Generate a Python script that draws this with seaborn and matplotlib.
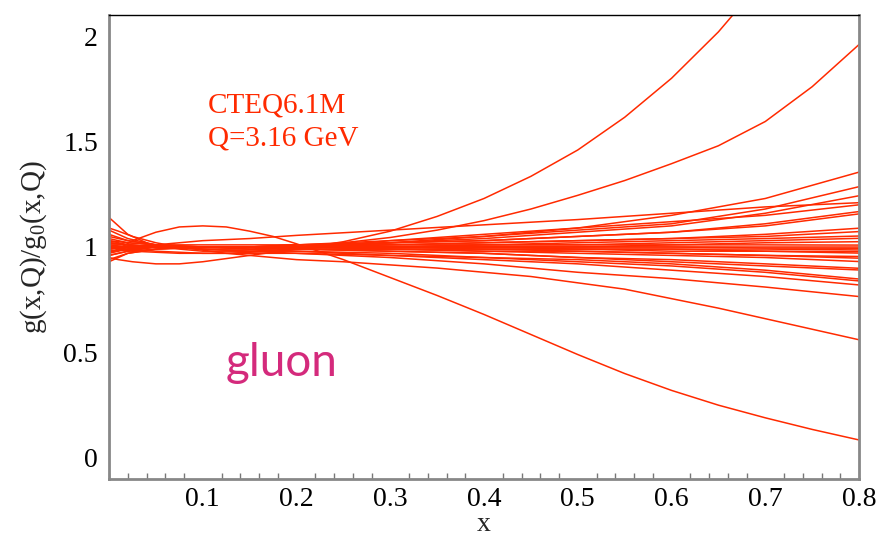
import pandas as pd
import matplotlib
matplotlib.use("Agg")
import matplotlib.pyplot as plt
from matplotlib.ticker import MultipleLocator
import seaborn as sns

# fine x grid for the curves that bend a lot
x_fine = [0.0, 0.01, 0.025, 0.05, 0.075, 0.1, 0.125, 0.15, 0.175, 0.2, 0.25,
          0.3, 0.35, 0.4, 0.45, 0.5, 0.55, 0.6, 0.65, 0.7, 0.75, 0.8]
# coarse x grid for the nearly straight ones
x_coarse = [0.0, 0.02, 0.05, 0.1, 0.15, 0.2, 0.3, 0.4, 0.5, 0.6, 0.7, 0.8]

top_1 = [1.00, 0.99, 0.98, 0.975, 0.97, 0.97, 0.97, 0.975, 0.98, 0.99, 1.025,
         1.075, 1.145, 1.23, 1.335, 1.46, 1.615, 1.80, 2.02, 2.28, 2.58, 2.92]
top_2 = [0.98, 0.985, 0.99, 1.00, 0.995, 0.99, 0.99, 0.99, 0.995, 1.00, 1.02,
         1.045, 1.08, 1.125, 1.18, 1.245, 1.315, 1.395, 1.48, 1.595, 1.76, 1.96]
hump = [0.97, 0.99, 1.03, 1.07, 1.095, 1.10, 1.095, 1.075, 1.05, 1.015, 0.94,
        0.855, 0.77, 0.68, 0.585, 0.49, 0.40, 0.32, 0.25, 0.19, 0.135, 0.085]
low_2 = [1.09, 1.075, 1.05, 1.02, 1.00, 0.985, 0.97, 0.96, 0.95, 0.94, 0.93,
         0.915, 0.90, 0.88, 0.86, 0.83, 0.80, 0.755, 0.71, 0.66, 0.61, 0.56]
dip = [0.95, 0.94, 0.93, 0.92, 0.92, 0.93, 0.945, 0.96, 0.975, 0.99, 1.01,
       1.03, 1.045, 1.06, 1.075, 1.09, 1.105, 1.12, 1.135, 1.15, 1.175, 1.20]

# curves leaving the band more gently
spread_curves = [
    [1.14, 1.06, 1.00, 0.98, 0.98, 0.99, 1.02, 1.05, 1.09, 1.15, 1.23, 1.355],
    [0.96, 0.98, 1.00, 1.00, 1.00, 1.01, 1.03, 1.05, 1.08, 1.11, 1.18, 1.286],
    [1.03, 1.01, 1.00, 1.00, 1.00, 1.01, 1.02, 1.04, 1.07, 1.10, 1.16, 1.243],
    [1.00, 1.00, 1.01, 1.03, 1.04, 1.055, 1.08, 1.105, 1.13, 1.16, 1.19, 1.21],
    [1.00, 0.99, 0.98, 0.97, 0.97, 0.97, 0.95, 0.92, 0.88, 0.85, 0.81, 0.765],
    [1.03, 1.02, 1.01, 1.00, 0.99, 0.98, 0.96, 0.94, 0.92, 0.89, 0.86, 0.820],
    [0.99, 1.00, 1.00, 0.99, 0.98, 0.97, 0.96, 0.95, 0.93, 0.91, 0.88, 0.839],
    [1.08, 1.04, 1.01, 0.99, 0.98, 0.98, 0.97, 0.95, 0.94, 0.92, 0.89, 0.848],
]
# curves that stay in the dense band around 1
band_curves = [
    [0.93, 0.97, 0.99, 1.00, 1.00, 1.00, 1.02, 1.03, 1.05, 1.07, 1.11, 1.168],
    [1.05, 1.03, 1.01, 1.01, 1.01, 1.01, 1.02, 1.03, 1.05, 1.07, 1.10, 1.157],
    [0.98, 0.99, 1.00, 1.00, 1.00, 1.01, 1.01, 1.02, 1.03, 1.04, 1.06, 1.089],
    [1.02, 1.01, 1.00, 1.00, 1.00, 1.00, 1.01, 1.02, 1.03, 1.04, 1.05, 1.073],
    [0.99, 1.00, 1.00, 1.00, 1.00, 1.00, 1.01, 1.01, 1.02, 1.03, 1.04, 1.052],
    [1.01, 1.00, 1.00, 1.00, 1.00, 1.00, 1.00, 1.01, 1.01, 1.02, 1.03, 1.041],
    [0.97, 0.99, 1.00, 1.00, 1.00, 1.00, 1.00, 1.01, 1.01, 1.01, 1.02, 1.025],
    [1.01, 1.01, 1.00, 1.00, 1.00, 1.00, 1.00, 1.00, 1.00, 1.01, 1.01, 1.009],
    [1.00, 1.00, 1.00, 1.00, 1.00, 1.00, 1.00, 1.00, 1.00, 1.00, 1.00, 1.000],
    [0.99, 1.00, 1.00, 1.00, 1.00, 1.00, 1.00, 1.00, 1.00, 1.00, 0.995, 0.994],
    [1.02, 1.01, 1.00, 1.00, 1.00, 1.00, 1.00, 1.00, 0.99, 0.99, 0.99, 0.986],
    [0.98, 0.99, 1.00, 1.00, 1.00, 1.00, 1.00, 0.99, 0.99, 0.99, 0.98, 0.978],
    [1.04, 1.02, 1.01, 1.00, 1.00, 1.00, 0.99, 0.99, 0.99, 0.98, 0.98, 0.971],
    [0.96, 0.98, 0.99, 1.00, 1.00, 1.00, 0.99, 0.99, 0.98, 0.97, 0.96, 0.955],
    [1.06, 1.03, 1.01, 1.00, 1.00, 0.99, 0.99, 0.98, 0.98, 0.97, 0.96, 0.947],
    [1.00, 1.00, 1.00, 1.00, 1.00, 0.99, 0.99, 0.98, 0.97, 0.96, 0.95, 0.931],
    [1.02, 1.01, 1.00, 1.00, 0.99, 0.99, 0.98, 0.97, 0.95, 0.94, 0.92, 0.899],
    [0.94, 0.97, 0.99, 1.00, 1.00, 0.99, 0.98, 0.97, 0.95, 0.93, 0.91, 0.891],
]

x_ticks = [0.1, 0.2, 0.3, 0.4, 0.5, 0.6, 0.7, 0.8]
y_ticks = [0, 0.5, 1, 1.5, 2]
y_ticklabels = ["0", "0.5", "1", "1.5", "2"]

# long table for seaborn
rows = []
member = 0
for curve in [top_1, top_2, hump, low_2, dip]:
    for x, r in zip(x_fine, curve):
        rows.append({"member": member, "x": x, "ratio": r})
    member += 1
for curve in spread_curves + band_curves:
    for x, r in zip(x_coarse, curve):
        rows.append({"member": member, "x": x, "ratio": r})
    member += 1
df = pd.DataFrame(rows)

sns.set_style("white")
plt.rcParams["font.family"] = ["Liberation Serif", "DejaVu Serif"]
plt.rcParams["mathtext.fontset"] = "custom"
plt.rcParams["mathtext.rm"] = "Liberation Serif"
plt.rcParams["mathtext.it"] = "Liberation Serif:italic"

fig = plt.figure(figsize=(8.8, 5.43), dpi=100)
ax = fig.add_axes([0.1239, 0.1179, 0.8523, 0.8545])

sns.lineplot(data=df, x="x", y="ratio", units="member", estimator=None,
             color="#ff2a00", linewidth=1.1, ax=ax, legend=False)

ax.set_xlim(0, 0.8)
ax.set_ylim(-0.1, 2.1)
ax.set_xticks(x_ticks)
ax.set_xticklabels([f"{t:g}" for t in x_ticks])
ax.xaxis.set_minor_locator(MultipleLocator(0.02))
ax.set_yticks(y_ticks)
ax.set_yticklabels(y_ticklabels)

ax.tick_params(axis="both", which="both", direction="in", color="#777777",
               labelsize=20, labelcolor="black")
ax.tick_params(axis="both", which="major", length=6, width=1)
ax.tick_params(axis="x", which="minor", length=4, width=1, bottom=True)
ax.tick_params(axis="x", pad=6)
ax.tick_params(axis="y", pad=8)

for side in ["left", "bottom", "right"]:
    ax.spines[side].set_color("#888888")
    ax.spines[side].set_linewidth(2)
ax.spines["top"].set_color("black")
ax.spines["top"].set_linewidth(1)

ax.set_xlabel("x", fontsize=20, labelpad=0)
ax.set_ylabel(r"g(x,Q)/g$_\mathrm{0}$(x,Q)", fontsize=21, labelpad=10)

ax.text(0.1056, 1.64, "CTEQ6.1M", color="#ff2a00", fontsize=21)
ax.text(0.1056, 1.483, "Q=3.16 GeV", color="#ff2a00", fontsize=21)
ax.text(0.124, 0.389, "gluon", color="#d42a7c", fontsize=33, family="Lato")

fig.savefig("out.png", dpi=100)
